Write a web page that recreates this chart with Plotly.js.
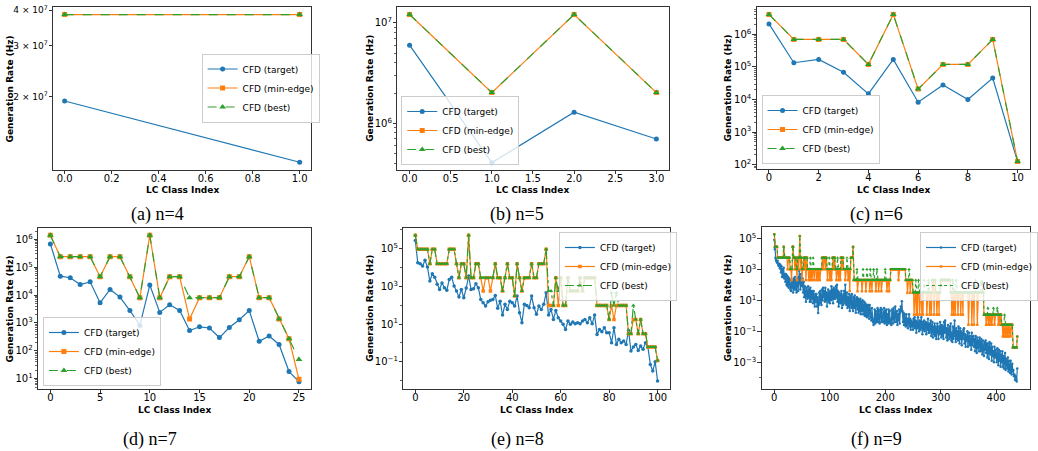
<!DOCTYPE html>
<html><head><meta charset="utf-8">
<script src="https://cdn.plot.ly/plotly-3.0.1.min.js"></script>
<style>html,body{margin:0;padding:0;background:#fff}#chart{width:1038px;height:451px}</style>
</head><body><div id="chart"></div>
<script>
// ---------- data ----------
// (a) n=4
const n4Target = [1.93e7, 1.18e7];
const n4MinEdge = [3.86e7, 3.86e7];
const n4Best = [3.86e7, 3.86e7];
// (b) n=5
const n5Target = [6.0e6, 4.05e5, 1.29e6, 6.96e5];
const n5MinEdge = [1.21e7, 2.02e6, 1.21e7, 2.02e6];
const n5Best = [1.21e7, 2.02e6, 1.21e7, 2.02e6];
// (c) n=6
const n6Target = [2.1e6, 1.35e5, 1.7e5, 6.9e4, 1.5e4, 1.7e5, 8.3e3, 2.8e4, 1.0e4, 4.6e4, 1.25e2];
const n6MinEdge = [4.1e6, 7.0e5, 7.0e5, 7.0e5, 1.2e5, 4.1e6, 2.1e4, 1.2e5, 1.2e5, 7.0e5, 1.27e2];
const n6Best = [4.1e6, 7.0e5, 7.0e5, 7.0e5, 1.2e5, 4.1e6, 2.1e4, 1.2e5, 1.2e5, 7.0e5, 1.27e2];
// (d) n=7
const n7Target = [6.9e5, 4.8e4, 4.2e4, 2.4e4, 3.0e4, 5.3e3, 1.6e4, 8.5e3, 2.8e3, 8.2e2, 2.3e4, 2.4e3, 4.5e3, 2.8e3, 5.4e2, 7.3e2, 6.6e2, 3.0e2, 6.9e2, 1.3e3, 2.8e3, 2.2e2, 3.4e2, 1.7e2, 18, 7.8];
const n7MinEdge = [1.4e6, 2.4e5, 2.4e5, 2.4e5, 2.4e5, 4.6e4, 2.4e5, 2.4e5, 4.6e4, 8.1e3, 1.4e6, 8.1e3, 4.6e4, 4.6e4, 1.4e3, 8.1e3, 8.1e3, 8.1e3, 4.6e4, 4.6e4, 2.4e5, 8.1e3, 8.1e3, 1.4e3, 2.7e2, 9.5];
const n7Best = [1.4e6, 2.4e5, 2.4e5, 2.4e5, 2.4e5, 4.6e4, 2.4e5, 2.4e5, 4.6e4, 8.1e3, 1.4e6, 8.1e3, 4.6e4, 4.6e4, 8.1e3, 8.1e3, 8.1e3, 8.1e3, 4.6e4, 4.6e4, 2.4e5, 8.1e3, 8.1e3, 1.4e3, 2.7e2, 49];
// (e) n=8  (log10 of rate)
const n8TargetLog = [
5.42,4.24,4.19,4.07,4.37,4.01,3.27,3.66,3.48,3.10,
2.83,3.17,2.92,2.78,3.36,3.48,3.01,2.74,2.43,2.83,
2.39,2.9,3.54,2.83,2.87,3.13,2.92,2.30,2.12,1.95,
2.18,2.25,2.30,2.51,1.83,2.21,1.47,2.04,1.77,2.21,
2.12,1.95,2.48,1.60,1.07,2.04,1.98,1.86,2.48,1.86,
1.51,1.95,1.77,2.04,2.65,1.47,1.77,1.24,1.72,1.33,
1.16,0.98,0.71,1.16,0.98,1.10,1.01,1.07,1.01,1.16,
1.24,1.07,1.33,1.01,1.47,0.45,0.71,0.59,0.80,0.54,
0.54,0.01,0.80,-0.08,0.19,0.01,0.10,-0.08,0.66,-0.43,
-0.22,-0.08,-0.40,-0.17,-0.34,0.01,-0.22,-1.14,-1.49,-1.0,
-2.02];
const n8MinEdgeLog = [
5.69,4.95,4.95,4.95,4.95,4.95,4.19,4.95,4.95,4.19,
4.19,4.19,4.19,4.19,4.95,4.95,4.95,4.19,3.45,4.19,
4.19,3.45,5.69,3.45,3.45,4.19,4.19,3.45,2.74,3.45,
3.45,2.74,3.45,4.19,3.45,3.45,2.74,3.45,4.19,3.45,
3.45,2.48,4.19,3.45,2.74,3.45,3.45,3.45,4.19,3.45,
3.45,4.19,4.19,4.19,4.95,1.98,1.98,1.98,3.45,1.98,
3.45,1.98,1.98,3.45,2.74,2.74,2.74,2.74,3.45,2.74,
3.45,3.45,3.45,3.45,3.45,1.98,1.98,1.98,1.98,1.98,
1.24,1.98,1.24,1.98,1.98,1.98,1.98,1.98,0.49,0.49,
1.24,1.24,0.49,1.24,0.49,0.49,-0.22,-0.22,-0.22,-0.22,
-0.93];
const n8BestLog = [
5.69,4.95,4.95,4.95,4.95,4.95,4.19,4.95,4.95,4.19,
4.19,4.19,4.19,4.19,4.95,4.95,4.95,4.19,3.45,4.19,
4.19,3.45,5.69,3.45,3.45,4.19,4.19,3.45,3.45,3.45,
3.45,3.45,3.45,4.19,3.45,3.45,2.74,3.45,4.19,3.45,
3.45,2.48,4.19,3.45,2.74,3.45,3.45,3.45,4.19,3.45,
3.45,4.19,4.19,4.19,4.95,2.74,2.74,1.98,3.45,2.74,
3.45,1.98,1.98,3.45,2.74,2.74,2.74,2.74,3.45,2.74,
3.45,3.45,3.45,3.45,3.45,1.98,1.98,1.98,1.98,1.98,
1.24,2.65,1.98,2.65,1.98,1.98,1.98,1.98,0.49,0.49,
1.98,1.24,0.49,1.24,0.49,0.49,-0.22,-0.22,-0.22,-0.22,
-0.93];
// (f) n=9  (log10 of rate)
const n9TargetLog = [
4.9,4.3,3.75,3.6,3.5,3.42,3.55,3.3,3.21,3.35,
3.05,3.3,2.8,3.2,2.5,3.0,2.5,3.1,2.4,2.7,
2.2,2.7,2.0,2.6,1.9,2.5,1.8,2.4,2.3,1.7,
1.6,2.3,1.8,2.2,1.5,2.4,1.7,2.5,1.7,2.3,
1.5,2.2,2.4,1.6,2.5,2.9,2.1,1.7,2.7,2.0,
1.9,2.4,1.5,2.2,1.2,1.9,1.4,0.9,1.8,1.3,
1.1,1.9,1.2,1.7,0.9,1.8,0.9,1.6,1.1,1.6,
0.8,1.6,1.1,0.6,1.4,0.9,1.4,0.6,1.2,0.18,
0.7,1.5,0.8,1.6,1.1,0.7,1.7,1.0,1.8,1.2,
1.6,0.9,1.8,1.0,1.5,0.6,1.3,1.7,0.9,1.5,
0.8,1.6,1.0,1.9,1.1,1.7,0.8,1.8,1.1,1.7,
1.1,1.9,1.2,2.0,0.9,1.6,0.6,1.5,0.8,1.4,
0.8,1.6,0.5,1.3,0.7,1.4,1.6,0.8,2.0,1.0,
0.7,1.5,0.5,1.2,0.6,1.4,0.3,1.1,1.3,0.5,
1.4,0.6,0.3,1.2,0.5,1.3,0.6,0.2,1.1,1.2,
0.4,1.1,0.2,1.0,0.3,1.1,0.1,0.9,0.3,1.0,
0.1,0.7,0.9,0.0,0.8,0.0,0.7,-0.1,0.7,0.0,
0.7,-0.2,0.7,0.4,-0.1,-0.3,0.5,-0.2,-0.4,-0.6,
-0.3,0.4,-0.5,0.3,-0.3,-0.4,0.5,-0.4,0.4,-0.2,
-0.5,0.3,0.5,-0.4,0.4,-0.3,-0.4,0.2,0.5,-0.5,
0.3,-0.4,0.4,-0.6,0.1,-0.5,0.4,-0.4,0.3,-0.5,
-0.2,-0.6,0.4,0.2,-0.5,0.5,-0.2,-0.4,0.6,0.1,
-0.4,0.3,-0.6,0.1,-0.3,0.4,-0.5,0.2,0.6,0.3,
0.94,0.3,-0.4,0.2,-0.6,0.1,-0.4,-0.7,0.1,-0.6,
-0.2,-0.8,-0.3,0.1,-0.7,-0.2,-0.9,-0.3,-0.7,-0.4,
-0.9,-0.2,-0.7,-0.1,-0.8,-0.3,-1.1,-0.4,-0.8,-0.1,
-0.7,-1.0,-0.3,-0.9,-0.5,-0.1,-0.8,-1.2,-0.4,-0.9,
-0.3,-1.0,-0.6,-0.4,-1.2,-0.5,-0.9,-0.2,-1.1,-0.5,
-1.1,-0.6,-0.3,-1.3,-0.7,-0.4,-1.4,-0.7,-1.2,-0.5,
-1.3,-0.7,-1.5,-0.9,-0.5,-1.1,-1.5,-0.7,-1.2,-0.4,
-1.1,-1.4,-0.6,-1.3,-0.7,-1.5,-0.4,-1.1,-0.3,-1.0,
-1.4,-0.8,-1.6,-0.6,-1.2,-1.5,-0.7,-1.4,-0.5,-1.6,
-1.1,-1.7,-0.7,-1.5,-1.0,-0.3,-1.3,-1.7,-0.8,-1.5,
-1.0,-1.6,-0.7,-1.3,-1.8,-0.8,-1.5,-1.0,-1.9,-1.1,
-1.5,-0.9,-0.8,-1.8,-1.2,-2.0,-1.3,-1.6,-1.0,-2.0,
-1.5,-1.1,-1.9,-1.3,-1.7,-2.2,-1.1,-1.9,-1.4,-1.3,
-2.0,-1.5,-2.3,-1.3,-1.8,-2.4,-1.4,-2.1,-1.6,-2.3,
-1.4,-1.8,-2.3,-1.5,-2.2,-2.5,-1.6,-2.2,-2.6,-1.7,
-2.2,-1.6,-2.4,-1.8,-2.7,-1.8,-2.1,-2.8,-1.7,-2.4,
-2.5,-1.8,-2.9,-2.0,-2.6,-2.3,-3.0,-2.0,-2.7,-2.2,
-2.5,-3.0,-2.1,-2.8,-3.2,-2.2,-2.9,-2.3,-3.3,-2.5,
-3.0,-2.3,-3.3,-2.6,-3.4,-2.7,-2.4,-3.5,-2.8,-3.0,
-3.4,-2.7,-3.6,-2.9,-3.4,-3.7,-2.9,-3.5,-3.8,-3.1,
-3.6,-3.5,-3.9,-3.8,-4.15,-3.9,-4.1,-4.25,-3.4];
const n9MinEdgeLog = [
5.26,4.46,4.46,4.46,4.46,4.46,3.75,3.75,3.75,3.75,
3.75,3.75,3.75,3.75,3.75,3.75,3.75,4.46,3.75,3.75,
3.75,3.75,3.75,3.75,3.0,3.75,3.75,3.75,3.0,3.0,
3.0,2.3,3.0,4.46,4.46,3.75,3.75,3.0,3.75,3.75,
3.0,2.3,3.75,3.75,3.0,3.75,5.15,3.75,3.0,3.75,
2.3,3.0,3.0,3.75,3.0,3.75,3.75,2.3,3.75,3.75,
3.0,3.0,2.3,3.0,3.0,2.3,3.0,3.0,2.3,3.0,
3.0,3.0,2.3,3.0,3.0,3.0,2.3,3.0,3.0,2.3,
3.0,3.0,2.3,3.0,3.0,3.0,3.75,3.75,3.0,3.75,
3.75,3.75,3.0,3.75,3.75,3.0,2.3,3.0,3.0,3.0,
2.3,3.0,3.0,2.3,3.0,3.75,3.75,3.0,3.75,3.75,
3.0,3.0,2.3,3.0,3.0,3.0,2.3,3.0,3.0,2.3,
3.75,3.75,3.0,3.75,3.75,3.0,3.0,3.0,2.3,3.0,
3.0,3.0,3.0,2.3,3.0,3.0,1.6,3.0,3.75,3.75,
3.75,3.75,4.46,2.3,2.3,2.3,2.3,2.3,2.3,2.3,
1.58,2.3,2.3,2.3,2.3,2.3,2.3,2.3,1.58,2.3,
2.3,2.3,2.3,2.3,2.3,1.58,2.3,2.3,2.3,2.3,
2.3,2.3,1.58,2.3,2.3,2.3,1.58,2.3,2.3,2.3,
2.3,2.3,2.3,1.58,2.3,2.3,2.3,2.3,1.58,2.3,
2.3,2.3,2.3,1.58,2.3,2.3,2.3,2.3,2.3,2.3,
2.3,2.3,2.3,1.58,2.3,2.3,2.3,1.58,2.3,2.3,
3.0,3.0,3.0,3.0,3.0,3.0,3.0,3.0,3.0,3.0,
3.0,3.0,3.0,3.0,2.3,3.0,3.0,3.0,3.0,3.0,
3.0,3.0,3.0,3.0,3.0,3.0,3.0,2.3,2.3,2.3,
1.48,2.3,2.3,2.3,2.3,1.48,2.3,2.3,2.3,2.3,
1.5,1.5,0.07,1.5,1.5,1.5,0.07,1.5,0.07,1.5,
1.5,1.5,0.07,1.5,1.5,1.5,0.07,1.5,0.07,1.5,
1.5,1.5,1.5,1.5,1.5,0.07,1.5,1.5,1.5,1.5,
0.07,1.5,1.5,0.07,1.5,2.3,2.3,2.3,0.07,2.3,
2.3,1.5,1.5,0.07,1.5,1.5,1.5,0.07,1.5,1.5,
2.3,2.3,2.3,2.3,2.3,2.3,2.3,2.3,2.3,2.3,
2.3,2.3,2.3,2.3,2.3,2.3,2.3,2.3,1.5,1.5,
0.07,1.5,1.5,0.07,1.5,1.5,0.07,1.5,1.5,1.5,
1.5,0.07,1.5,1.5,1.5,1.5,0.07,1.5,1.5,1.5,
0.07,1.5,1.5,1.5,1.5,1.5,1.5,1.5,1.5,1.5,
-0.58,1.5,1.5,1.5,1.5,1.5,-0.58,1.5,1.5,1.5,
-0.58,1.5,1.5,1.5,1.5,1.5,-0.58,1.5,1.5,1.5,
1.5,1.5,1.5,1.5,1.5,1.5,1.5,1.5,0.07,0.07,
0.07,0.07,-0.58,0.07,0.07,0.07,-0.58,0.07,0.07,-0.58,
0.07,0.07,-0.58,0.07,0.07,0.07,0.07,-0.58,0.07,0.07,
0.07,0.07,0.07,0.07,-0.58,0.07,0.07,-0.58,0.07,0.07,
-0.58,-0.58,-1.34,-0.58,-1.34,-0.58,-0.58,-1.34,-0.58,-0.58,
-1.34,-0.58,-0.58,-1.34,-0.58,-0.58,-1.34,-0.58,-0.58,-0.58,
-2.05,-2.05,-2.05,-2.05,-2.05,-2.05,-2.05,-2.05,-1.34];
const n9BestLog = [
5.26,4.46,4.46,4.46,4.46,4.46,3.75,3.75,3.75,3.75,
3.75,3.75,3.75,3.75,3.75,3.75,3.75,4.46,3.75,3.75,
3.75,3.75,3.75,3.75,3.75,3.75,3.75,3.75,3.75,3.0,
3.0,3.0,3.0,4.46,4.46,3.75,3.75,3.75,3.75,3.75,
3.0,3.0,3.75,3.75,3.75,3.75,5.15,3.75,3.75,3.75,
3.0,3.0,3.0,3.75,3.75,3.75,3.75,3.75,3.75,3.75,
3.0,3.0,3.0,3.0,3.0,3.75,3.0,3.0,3.0,3.0,
3.75,3.0,3.0,3.0,3.0,3.0,3.0,3.0,3.0,3.0,
3.0,3.0,3.0,3.0,3.0,3.0,3.75,3.75,3.75,3.75,
3.75,3.75,3.75,3.75,3.75,3.0,3.0,3.0,3.0,3.75,
3.0,3.0,3.0,3.0,3.0,3.75,3.75,3.75,3.75,3.75,
3.0,3.0,3.0,3.0,3.75,3.0,3.0,3.0,3.0,3.0,
3.75,3.75,3.75,3.75,3.75,3.0,3.0,3.0,3.0,3.0,
3.0,3.75,3.0,3.0,3.0,3.0,3.0,3.0,3.75,3.75,
3.75,3.75,4.46,2.3,2.3,2.3,2.3,2.3,2.3,3.0,
2.3,2.3,2.3,2.3,2.3,2.3,2.3,2.3,2.3,2.3,
3.0,2.3,2.3,2.3,2.3,2.3,2.3,3.0,2.3,2.3,
2.3,2.3,2.3,3.0,2.3,2.3,2.3,2.3,2.3,3.0,
2.3,2.3,2.3,2.3,2.3,3.0,2.3,2.3,2.3,2.3,
2.3,2.3,2.3,2.3,2.3,2.3,2.3,2.3,2.3,2.3,
3.0,2.3,2.3,2.3,2.3,2.3,2.3,2.3,2.3,2.3,
3.0,3.0,3.0,3.0,3.0,3.0,3.0,3.0,3.0,3.0,
3.0,3.0,3.0,3.0,3.0,3.0,3.0,3.0,3.0,3.0,
3.0,3.0,3.0,3.0,3.0,3.0,3.0,2.3,2.3,2.3,
2.3,2.3,2.3,3.0,2.3,2.3,2.3,2.3,2.3,2.3,
1.5,1.5,1.5,1.5,1.5,2.3,1.5,1.5,1.5,1.5,
2.3,1.5,1.5,1.5,1.5,1.5,1.5,1.5,1.5,1.5,
2.3,1.5,1.5,1.5,1.5,1.5,1.5,1.5,2.3,1.5,
1.5,1.5,1.5,1.5,1.5,2.3,2.3,2.3,2.3,2.3,
2.3,1.5,1.5,1.5,1.5,1.5,1.5,1.5,1.5,1.5,
2.3,2.3,2.3,2.3,2.3,2.3,2.3,2.3,2.3,2.3,
2.3,2.3,2.3,2.3,2.3,2.3,2.3,2.3,1.5,1.5,
1.5,1.5,2.3,1.5,1.5,1.5,1.5,1.5,2.3,1.5,
1.5,1.5,1.5,1.5,1.5,1.5,1.5,1.5,1.5,1.5,
1.5,1.5,1.5,1.5,1.5,1.5,1.5,1.5,1.5,1.5,
1.5,1.5,1.5,1.5,1.5,1.5,1.5,1.5,1.5,1.5,
1.5,1.5,1.5,2.3,1.5,1.5,1.5,1.5,1.5,1.5,
1.5,1.5,1.5,2.2,2.2,2.2,1.5,1.5,0.07,0.07,
0.07,0.07,0.07,0.07,0.07,0.5,0.07,0.07,0.07,0.07,
0.07,0.07,0.07,0.07,0.07,0.5,0.07,0.07,0.07,0.07,
0.07,0.07,0.5,0.07,0.07,0.07,0.07,0.07,0.07,0.07,
-0.58,-0.58,-0.58,-0.58,-0.58,0.07,-0.58,-0.58,-0.58,-0.58,
-0.58,-0.58,-0.58,-0.58,-0.58,-0.58,-0.58,-0.58,-0.58,-0.58,
-2.05,-2.05,-2.05,-2.05,-2.05,-2.05,-2.05,-2.05,-1.34];

const seriesNames = ['CFD (target)', 'CFD (min-edge)', 'CFD (best)'];
const captions = ['(a) n=4', '(b) n=5', '(c) n=6', '(d) n=7', '(e) n=8', '(f) n=9'];
const xTickVals = [[0,0.2,0.4,0.6,0.8,1.0],[0,0.5,1,1.5,2,2.5,3],[0,2,4,6,8,10],[0,5,10,15,20,25],[0,20,40,60,80,100],[0,100,200,300,400]];
const xTickText = [['0.0','0.2','0.4','0.6','0.8','1.0'],['0.0','0.5','1.0','1.5','2.0','2.5','3.0'],['0','2','4','6','8','10'],['0','5','10','15','20','25'],['0','20','40','60','80','100'],['0','100','200','300','400']];

// ---------- layout helpers ----------
const W = 1038, H = 451;
const C = {blue:'#1f77b4', orange:'#ff7f0e', green:'#2ca02c'};
function dom(x0, x1, y0, y1) { return {x:[x0/W, x1/W], y:[1 - y1/H, 1 - y0/H]}; }
function unlog(a) { return a.map(v => Math.pow(10, v)); }
function idx(a) { return a.map((_, i) => i); }
function sup(e) { return '10<sup>' + (e < 0 ? '\u2212' + (-e) : e) + '</sup>'; }
function decTicks(lo, hi, step) { const v = [], t = []; for (let e = lo; e <= hi; e += step) { v.push(Math.pow(10, e)); t.push(sup(e)); } return [v, t]; }
function minorTicks(lo, hi) { const v = []; for (let e = lo; e <= hi; e++) for (let m = 2; m <= 9; m++) v.push(m * Math.pow(10, e)); return v; }

const tickFont = {family:'DejaVu Sans, sans-serif', size:10, color:'#000'};
const axBase = {showline:true, mirror:true, linecolor:'#000', linewidth:0.8, ticks:'outside', ticklen:3.5, tickwidth:0.8, tickcolor:'#000', showgrid:false, zeroline:false, tickfont:tickFont, fixedrange:true};

const panels = [
  {d:dom(53,312,7,170), xr:[-0.05,1.05], yr:[7.045,7.613], yt:[[2e7,3e7,4e7],['2 \u00d7 10<sup>7</sup>','3 \u00d7 10<sup>7</sup>','4 \u00d7 10<sup>7</sup>']], ym:[], yfs:9,
   data:[n4Target,n4MinEdge,n4Best], ms:[5,5,6], lw:1.2, gdash:'dash',
   leg:{x:202, y:88, ya:'middle'}, ytx:10, cap:[158,214]},
  {d:dom(398,670,7,170), xr:[-0.15,3.15], yr:[5.534,7.158], yt:decTicks(6,7,1), ym:minorTicks(5,6), yfs:10,
   data:[n5Target,n5MinEdge,n5Best], ms:[5,5,6], lw:1.2, gdash:'dash',
   leg:{x:402, y:165, ya:'bottom'}, ytx:370, cap:[518,214]},
  {d:dom(758,1032,7,169), xr:[-0.5,10.5], yr:[1.87,6.84], yt:decTicks(2,6,1), ym:minorTicks(1,6), yfs:10,
   data:[n6Target,n6MinEdge,n6Best], ms:[5,5,6], lw:1.2, gdash:'dash',
   leg:{x:763, y:164, ya:'bottom'}, ytx:729, cap:[878,214]},
  {d:dom(38,312,228,389), xr:[-1.25,26.25], yr:[0.63,6.41], yt:decTicks(1,6,1), ym:minorTicks(0,6), yfs:10,
   data:[n7Target,n7MinEdge,n7Best], ms:[5,5,6], lw:1.2, gdash:'dash',
   leg:{x:43, y:386, ya:'bottom'}, ytx:10, cap:[150,439]},
  {d:dom(404,671,228,389), xr:[-5,105], yr:[-2.44,6.08], yt:decTicks(-1,5,2), ym:[1e-2,1,1e2,1e4,1e6], yfs:10,
   data:[unlog(n8TargetLog),unlog(n8MinEdgeLog),unlog(n8BestLog)], ms:[3.5,3.5,4], lw:1.2, gdash:'dashdot',
   leg:{x:560, y:232, ya:'top'}, ytx:370, cap:[518,439]},
  {d:dom(763,1032,227,389), xr:[-23,461], yr:[-4.73,5.73], yt:decTicks(-3,5,2), ym:[1e-4,1e-2,1,1e2,1e4], yfs:10,
   data:[unlog(n9TargetLog),unlog(n9MinEdgeLog),unlog(n9BestLog)], ms:[2.5,2.5,3], lw:1.2, gdash:'dot',
   leg:{x:922, y:232, ya:'top'}, ytx:729, cap:[878,439]}
];

const traces = [], layout = {width:W, height:H, margin:{l:0,r:0,t:0,b:0}, paper_bgcolor:'#fff', plot_bgcolor:'#fff',
  hovermode:false, showlegend:true, annotations:[], font:{family:'DejaVu Sans, sans-serif', color:'#000'}};

panels.forEach((p, k) => {
  const s = k === 0 ? '' : String(k + 1);
  const legName = 'legend' + s;
  const xa = 'x' + s, ya = 'y' + s;
  layout['xaxis' + s] = Object.assign({}, axBase, {domain:p.d.x, range:p.xr, anchor:ya, tickmode:'array', tickvals:xTickVals[k], ticktext:xTickText[k], ticklabelstandoff:-4});
  const yax = Object.assign({}, axBase, {domain:p.d.y, type:'log', range:p.yr, anchor:xa, tickmode:'array', tickvals:p.yt[0], ticktext:p.yt[1], ticklabelstandoff:-1,
    tickfont:Object.assign({}, tickFont, {size:p.yfs})});
  if (p.ym.length) yax.minor = {tickmode:'array', tickvals:p.ym, ticks:'outside', ticklen:2, tickwidth:0.6, tickcolor:'#000', showgrid:false};
  layout['yaxis' + s] = yax;
  layout[legName] = {x:p.leg.x / W, y:1 - p.leg.y / H, xanchor:'left', yanchor:p.leg.ya, xref:'paper', yref:'paper',
    bgcolor:'rgba(255,255,255,0.8)', bordercolor:'#cccccc', borderwidth:1, font:{family:'DejaVu Sans, sans-serif', size:9, color:'#000'},
    tracegroupgap:0, itemwidth:30};
  const styles = [
    {color:C.blue, dash:'solid', symbol:'circle'},
    {color:C.orange, dash:'solid', symbol:'square'},
    {color:C.green, dash:p.gdash, symbol:'triangle-up'}
  ];
  p.data.forEach((ys, j) => {
    traces.push({type:'scatter', mode:'lines+markers', x:idx(ys), y:ys, name:seriesNames[j], xaxis:xa, yaxis:ya, legend:legName,
      line:{color:styles[j].color, width:p.lw, dash:styles[j].dash},
      marker:{color:styles[j].color, size:p.ms[j], symbol:styles[j].symbol, line:{width:0}}});
  });
  // axis titles and captions
  const cx = (p.d.x[0] + p.d.x[1]) / 2, cy = (p.d.y[0] + p.d.y[1]) / 2;
  const xTitleY = k < 3 ? 190 : 410;
  layout.annotations.push({text:'LC Class Index', x:cx, y:1 - xTitleY / H, xref:'paper', yref:'paper', showarrow:false,
    xanchor:'center', yanchor:'middle', font:{family:'DejaVu Sans, sans-serif', size:9, weight:'bold', color:'#000'}});
  layout.annotations.push({text:'Generation Rate (Hz)', x:p.ytx / W, y:cy, xref:'paper', yref:'paper', showarrow:false, textangle:-90,
    xanchor:'center', yanchor:'middle', font:{family:'DejaVu Sans, sans-serif', size:9, weight:'bold', color:'#000'}});
  layout.annotations.push({text:captions[k], x:p.cap[0] / W, y:1 - p.cap[1] / H, xref:'paper', yref:'paper', showarrow:false,
    xanchor:'center', yanchor:'middle', font:{family:'Liberation Serif, Times New Roman, serif', size:18, color:'#000'}});
});

Plotly.newPlot('chart', traces, layout, {staticPlot:true, displayModeBar:false});
</script></body></html>
